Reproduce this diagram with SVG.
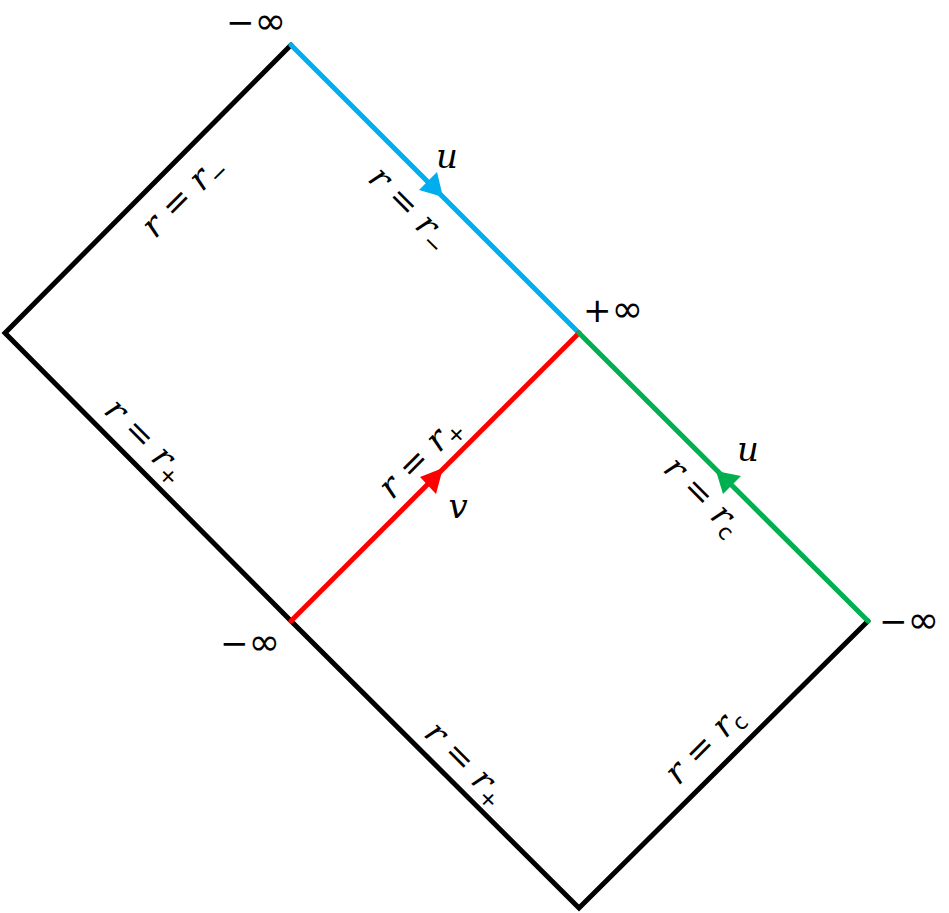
<svg xmlns="http://www.w3.org/2000/svg" width="949" height="913" viewBox="0 0 949 913">
<style>
.ln{fill:none;stroke-width:5;stroke-linecap:round}
.m{font-family:"DejaVu Serif","Liberation Serif",serif;font-style:italic;font-size:34px;fill:#000}
.s{font-style:normal;font-family:"DejaVu Sans","Liberation Sans",sans-serif;font-size:22px}
.eq{font-style:normal}
.inf{font-family:"DejaVu Sans","Liberation Sans",sans-serif;font-size:34px;fill:#000}
.i{font-size:38px}
</style>
<rect width="949" height="913" fill="#fff"/>
<g id="connectors">
<path class="ln" stroke="#000" d="M291,45 L5,333 L291,621 L579,908 L868,621"/>
<path class="ln" stroke="#00AEEF" d="M291,45 L579,333"/>
<path class="ln" stroke="#FF0000" d="M291,621 L579,333"/>
<path class="ln" stroke="#00B050" d="M579,333 L868,621"/>
<polygon fill="#00AEEF" points="443,197 419,190 437,172"/>
<polygon fill="#FF0000" points="443,468 420,477 436,494"/>
<polygon fill="#00B050" points="716,471 741,476 723,494"/>
</g>
<g id="label-top-left"><text class="m" text-anchor="middle" transform="translate(183,196) rotate(-45)" y="11">r<tspan class="eq"> = </tspan>r<tspan class="s" dy="6">−</tspan></text></g>
<g id="label-blue"><text class="m" text-anchor="middle" transform="translate(410,208) rotate(45)" y="11">r<tspan class="eq"> = </tspan>r<tspan class="s" dy="6">−</tspan></text></g>
<g id="label-left-low"><text class="m" text-anchor="middle" transform="translate(146,440) rotate(45)" y="11">r<tspan class="eq"> = </tspan>r<tspan class="s" dy="6">+</tspan></text></g>
<g id="label-red"><text class="m" text-anchor="middle" transform="translate(420,457) rotate(-45)" y="11">r<tspan class="eq"> = </tspan>r<tspan class="s" dy="6">+</tspan></text></g>
<g id="label-green"><text class="m" text-anchor="middle" transform="translate(703,496) rotate(45)" y="11">r<tspan class="eq"> = </tspan>r<tspan class="s" dy="6">c</tspan></text></g>
<g id="label-bottom-left"><text class="m" text-anchor="middle" transform="translate(466,763) rotate(45)" y="11">r<tspan class="eq"> = </tspan>r<tspan class="s" dy="6">+</tspan></text></g>
<g id="label-bottom-right"><text class="m" text-anchor="middle" transform="translate(704,745) rotate(-45)" y="11">r<tspan class="eq"> = </tspan>r<tspan class="s" dy="6">c</tspan></text></g>
<g id="label-u1"><text class="m" x="447" y="168" text-anchor="middle">u</text></g>
<g id="label-u2"><text class="m" x="748" y="461" text-anchor="middle">u</text></g>
<g id="label-v"><text class="m" x="458" y="518" text-anchor="middle">v</text></g>
<g id="inf-top"><text class="inf" x="256" y="34" text-anchor="middle">−<tspan class="i">∞</tspan></text></g>
<g id="inf-mid"><text class="inf" x="613" y="322" text-anchor="middle">+<tspan class="i">∞</tspan></text></g>
<g id="inf-left"><text class="inf" x="250" y="655" text-anchor="middle">−<tspan class="i">∞</tspan></text></g>
<g id="inf-right"><text class="inf" x="909" y="633" text-anchor="middle">−<tspan class="i">∞</tspan></text></g>
</svg>
